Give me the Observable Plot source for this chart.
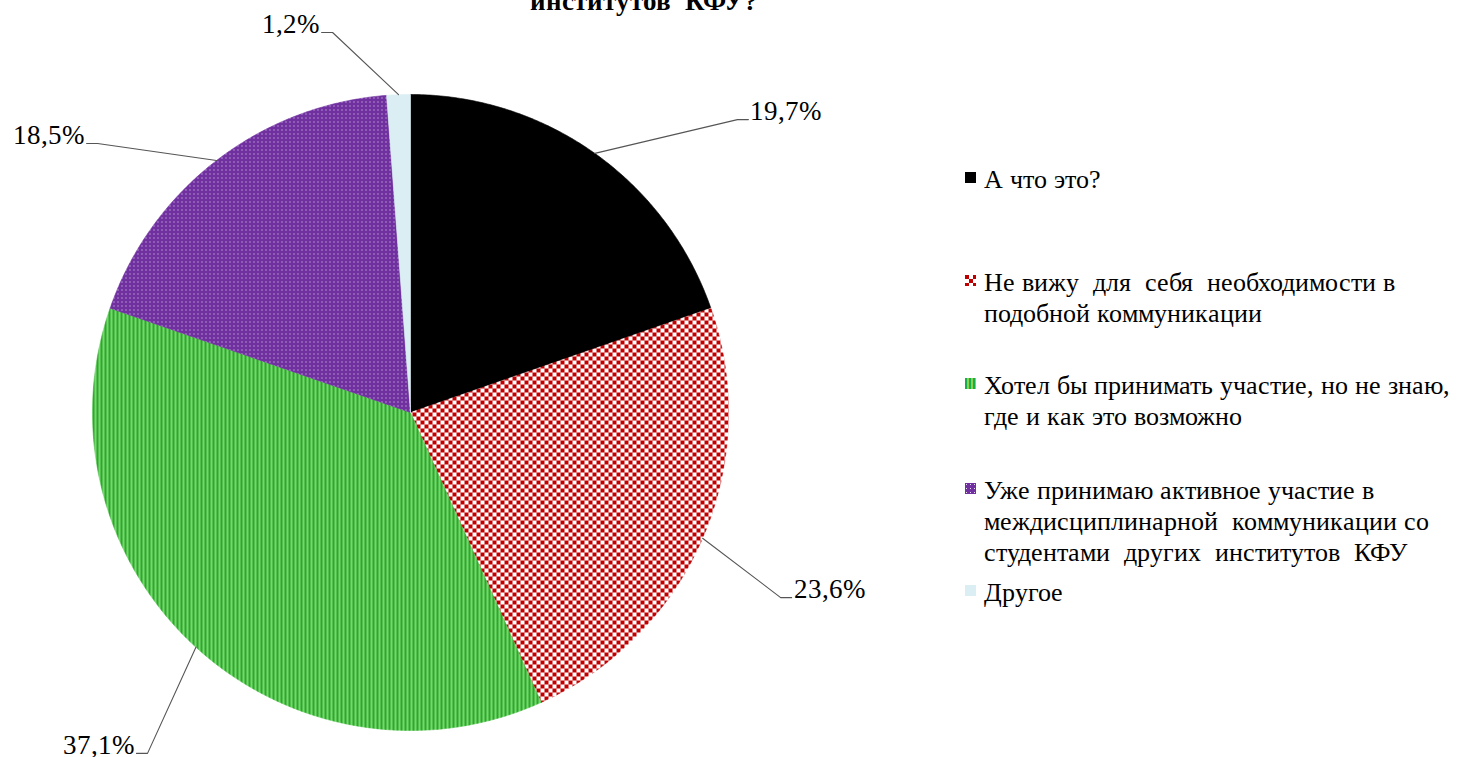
<!DOCTYPE html>
<html><head><meta charset="utf-8">
<script src="https://cdn.jsdelivr.net/npm/d3@7"></script>
<script src="https://cdn.jsdelivr.net/npm/@observablehq/plot@0.6"></script>
<style>
@font-face{font-family:"ChartSerif";src:local("Liberation Serif"),local("LiberationSerif"),local("LiberationSerif-Regular");font-weight:400;}
@font-face{font-family:"ChartSerif";src:local("Liberation Serif Bold"),local("LiberationSerif-Bold");font-weight:700;}
body{margin:0;background:#fff;color:#000;}
#wrap{position:relative;width:1460px;height:757px;overflow:hidden;}
#title{position:absolute;left:0;width:1288px;top:-14px;text-align:center;font-weight:bold;font-size:27px;line-height:30px;white-space:pre;}
#chart{position:absolute;left:0;top:0;}
.lg{position:absolute;left:965px;font-size:26px;line-height:31px;white-space:pre;}
.lg svg{position:absolute;left:0;}
.lg .t{position:absolute;left:19px;top:0;}
</style></head><body>
<div id="wrap"><div id="title">институтов  КФУ?</div><div id="chart"></div></div>
<script>
// ---- data ----
const categories = [
  "А что это?",
  "Не вижу для себя необходимости в подобной коммуникации",
  "Хотел бы принимать участие, но не знаю, где и как это возможно",
  "Уже принимаю активное участие в междисциплинарной коммуникации со студентами других институтов КФУ",
  "Другое"
];
const values = [19.7, 23.6, 37.1, 18.5, 1.2];
const valueLabels = ["19,7%", "23,6%", "37,1%", "18,5%", "1,2%"];
const legendLines = [
  ["А что это?"],
  ["Не вижу  для  себя  необходимости в", "подобной коммуникации"],
  ["Хотел бы принимать участие, но не знаю,", "где и как это возможно"],
  ["Уже принимаю активное участие в", "междисциплинарной  коммуникации со", "студентами  других  институтов  КФУ"],
  ["Другое"]
];

// ---- layout / style (not data) ----
const FONT = '"ChartSerif", "Liberation Serif", Tinos, "Times New Roman", "Noto Serif CJK SC", serif';
const W = 940, H = 757, CX = 410, CY = 412, R = 318;
const fills = ["#000000", "url(#pCheck)", "url(#pStripe)", "url(#pDots)", "#DAEEF3"];
// label elbow points in pie-radius units and side
const labelLayout = [
  {ex: 1.028, ey: 0.921, side: 1},
  {ex: 1.164, ey: -0.582, side: 1},
  {ex: -0.827, ey: -1.072, side: -1},
  {ex: -0.984, ey: 0.846, side: -1},
  {ex: -0.245, ey: 1.195, side: -1}
];
const legendCenters = [179, 282, 385, 490, 592];

// ---- build slices ----
const total = d3.sum(values);
let acc = 0;
const slices = values.map((v, i) => {
  const a0 = acc / total * 2 * Math.PI;
  acc += v;
  const a1 = acc / total * 2 * Math.PI;
  const pts = [{x: 0, y: 0}];
  const n = Math.max(2, Math.ceil((a1 - a0) / (Math.PI / 360)));
  for (let k = 0; k <= n; k++) {
    const a = a0 + (a1 - a0) * k / n;
    pts.push({x: Math.sin(a), y: Math.cos(a)});
  }
  pts.push({x: 0, y: 0});
  return {cat: categories[i], pts, mid: (a0 + a1) / 2, fill: fills[i]};
});

const seg = 11 / R;
const leaders = slices.map((s, i) => {
  const L = labelLayout[i];
  return [
    {x: Math.sin(s.mid), y: Math.cos(s.mid), i},
    {x: L.ex, y: L.ey, i},
    {x: L.ex + L.side * seg, y: L.ey, i}
  ];
});
const labels = slices.map((s, i) => {
  const L = labelLayout[i];
  return {x: L.ex + L.side * seg, y: L.ey, text: valueLabels[i], side: L.side};
});

const marks = [];
slices.forEach(s => {
  marks.push(Plot.line(s.pts, {x: "x", y: "y", fill: s.fill, stroke: s.fill, strokeWidth: 0.6, curve: "linear"}));
});
leaders.forEach(l => marks.push(Plot.line(l, {x: "x", y: "y", stroke: "#555", strokeWidth: 1.1})));
marks.push(Plot.text(labels.filter(d => d.side > 0), {x: "x", y: "y", text: "text", textAnchor: "start", dx: 2, dy: -8, fontSize: 27, fontFamily: FONT, fill: "#000"}));
marks.push(Plot.text(labels.filter(d => d.side < 0), {x: "x", y: "y", text: "text", textAnchor: "end", dx: -3, dy: -8, fontSize: 27, fontFamily: FONT, fill: "#000"}));

const svg = Plot.plot({
  width: W, height: H, margin: 0,
  x: {domain: [-CX / R, (W - CX) / R], axis: null},
  y: {domain: [-(H - CY) / R, CY / R], axis: null},
  style: {background: "transparent", overflow: "visible"},
  marks
});
const ns = "http://www.w3.org/2000/svg";
const defs = document.createElementNS(ns, "defs");
defs.innerHTML = `
<pattern id="pCheck" patternUnits="userSpaceOnUse" width="8" height="8">
  <rect width="8" height="8" fill="#fff"/><rect width="4" height="4" fill="#C00000"/><rect x="4" y="4" width="4" height="4" fill="#C00000"/>
</pattern>
<pattern id="pStripe" patternUnits="userSpaceOnUse" width="4" height="4">
  <rect width="4" height="4" fill="#8FD14F"/><rect width="2" height="4" fill="#14AE4B"/>
</pattern>
<pattern id="pDots" patternUnits="userSpaceOnUse" width="4" height="4">
  <rect width="4" height="4" fill="#7030A0"/><rect x="1" y="1" width="1" height="1" fill="#fff" fill-opacity="0.85"/>
</pattern>`;
svg.insertBefore(defs, svg.firstChild);
svg.querySelectorAll("text").forEach(t => t.setAttribute("font-family", FONT));
document.getElementById("chart").appendChild(svg);

// ---- legend ----
const wrap = document.getElementById("wrap");
legendLines.forEach((lines, i) => {
  const div = document.createElement("div");
  div.className = "lg";
  div.style.top = (legendCenters[i] - 15.5) + "px";
  const m = document.createElementNS(ns, "svg");
  m.setAttribute("width", 11); m.setAttribute("height", 11);
  m.style.top = "8px";
  m.innerHTML = `<rect width="11" height="11" fill="${fills[i]}"/>`;
  div.appendChild(m);
  const t = document.createElement("div");
  t.className = "t";
  t.textContent = lines.join("\n");
  div.appendChild(t);
  wrap.appendChild(div);
});

// force the serif face on every text-bearing element
const applyFont = () => {
  wrap.style.setProperty("font-family", FONT, "important");
  wrap.querySelectorAll("*").forEach(el => el.style.setProperty("font-family", FONT, "important"));
};
applyFont();
requestAnimationFrame(applyFont);
</script>
</body></html>
